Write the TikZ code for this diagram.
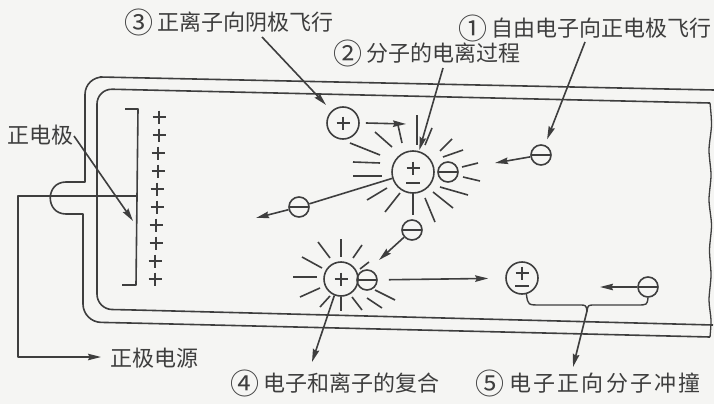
\documentclass[tikz,border=0pt]{standalone}
\usepackage{fontspec}
\newfontfamily\cjk{Noto Sans CJK SC}
\usetikzlibrary{arrows.meta}
\definecolor{ink}{RGB}{62,62,62}
\definecolor{paper}{RGB}{245,245,243}
% enlarged circled step number
\newcommand\cnum[1]{\raisebox{-2.5pt}{\fontsize{29}{29}\selectfont #1}}

\tikzset{
  arr/.style={-{Stealth[length=13pt,width=6.5pt,inset=1.5pt]}},
  lbl/.style={font=\cjk\fontsize{22}{24}\selectfont, inner sep=0pt, text=ink},
  % positive ion: circle with a plus
  posion/.style={circle, draw, minimum size=#1, inner sep=0pt,
    path picture={\draw
      ([shift={(-6.5,0)}]path picture bounding box.center) -- ([shift={(6.5,0)}]path picture bounding box.center)
      ([shift={(0,-6.5)}]path picture bounding box.center) -- ([shift={(0,6.5)}]path picture bounding box.center);}},
  % electron: circle with a bar
  elec/.style={circle, draw, minimum size=20pt, inner sep=0pt,
    path picture={\draw
      ([shift={(-10,0)}]path picture bounding box.center) -- ([shift={(10,0)}]path picture bounding box.center);}},
  % neutral molecule: plus above, minus below
  mol/.style args={#1/#2/#3}{circle, draw, minimum size=#1, inner sep=0pt,
    path picture={\draw
      ([shift={(-6.5,#2)}]path picture bounding box.center) -- ([shift={(6.5,#2)}]path picture bounding box.center)
      ([shift={(0,#2-6.5)}]path picture bounding box.center) -- ([shift={(0,#2+6.5)}]path picture bounding box.center)
      ([shift={(-7,#3)}]path picture bounding box.center) -- ([shift={(7,#3)}]path picture bounding box.center);}},
}

\begin{document}
\begin{tikzpicture}[x=1pt, y=-1pt, line width=1.6pt, color=ink, line join=round]
\fill[paper] (0,0) rectangle (714,404);
\useasboundingbox (0,0) rectangle (714,404);

% ---- discharge tube (outer wall with side arm) ----
\draw (714,90) -- (100,77) [rounded corners=18pt] -- (85,76.5) -- (85,130) [sharp corners]
  -- (85,182) -- (66,182) .. controls (45,182) and (45,214) .. (66,214) -- (83,214)
  -- (83,260) [rounded corners=18pt] -- (83,322) -- (130,323) [sharp corners] -- (710,337);
% inner wall
\draw (710,103) -- (115,89.3) [rounded corners=15pt] -- (97,89) -- (97,309.2) -- (135,310) [sharp corners] -- (713,325);
% broken-off right end
\draw[line width=1.3pt] plot[smooth] coordinates {(710,103) (711.5,125) (709,150) (711,175) (709,200)
  (711.5,225) (709.5,250) (711,275) (709,300) (711,320) (710,337)};

% ---- positive electrode ----
\draw (125,109) -- (138,109) -- (136,285) -- (122,285);
\coordinate (w0) at (137,196);
\coordinate (tE) at (133,221);
\foreach \i in {0,...,9}
  \draw ({round(159-4*\i/9)-6.5},{117+18*\i}) -- ({round(159-4*\i/9)+6.5},{117+18*\i})
        ({round(159-4*\i/9)},{117+18*\i-6.5}) -- ({round(159-4*\i/9)},{117+18*\i+6.5});

% ---- particles ----
\node[posion=32pt] (p1) at (343,123) {};
\node[mol=42pt/-4/11] (m1) at (413,172) {};
\node[elec] (e0) at (448,172) {};
\node[elec] (e1) at (541,155) {};
\node[elec] (eL) at (299,207) {};
\node[elec] (e2) at (412,230) {};
\node[posion=34pt] (m3) at (341,279) {};
\node[elec] (e3) at (367,280) {};
\node[mol=32pt/-5/8] (m2) at (522,278) {};
\node[elec] (e4) at (648,287) {};

% rays of the ionisation burst
\begin{scope}[shift={(413,172)}]
  \foreach \a/\b/\c/\d in {-15/-47/-11/-29, 4/-57/4/-27, 12/-27/19/-44, -38/-40/-21/-25,
      -63/-29/-33/-17, -60/-10/-33/-9, -60/4/-31/4, -46/28/-26/16, -28/40/-13/21,
      0/21/0/43, 12/26/22/50, 20/20/40/36, 27/15/55/23, 49/-5/65/-9, 50/5/67/9,
      30/-15/50/-22, 27/-21/39/-33}
    \draw (\a,\b) -- (\c,\d);
\end{scope}
% rays of the recombination burst
\begin{scope}[shift={(341,279)}]
  \foreach \a/\b/\c/\d in {0/-40/0/-22, -23/-37/-11/-21, -39/-22/-19/-11, -48/-2/-24/-2,
      -41/18/-21/9, -21/28/-11/17, 0/18/0/32, 11/18/21/31, 26/19/41/29, 34/11/54/21,
      21/-34/12/-21, 28/-17/19/-10}
    \draw (\a,\b) -- (\c,\d);
\end{scope}

% ---- particle paths ----
\coordinate (t1) at (406,124);
\coordinate (tE1) at (495,163);
\coordinate (tL) at (256,218);
\coordinate (t2) at (379,260);
\coordinate (t4b) at (600,287);
\draw[arr] ([xshift=6pt]p1.east) -- (t1);
\draw[arr] (e1) -- (tE1);
\draw (m1) -- (eL);
\draw[arr] (eL) -- (tL);
\draw[arr] (e2) -- (t2);
\draw[arr, shorten <=11pt, shorten >=17pt] (e3) -- (m2);
\draw[arr] (e4) -- (t4b);

% brace joining electron and molecule
\coordinate (bt) at (587,311);
\draw[line width=1.4pt] (m2.-75) .. controls (528,305) .. (540,305) -- (579,305)
  .. controls (586,305) .. (bt) .. controls (588,305) .. (595,305) -- (637,305)
  .. controls (647,305) .. (e4.south);

% ---- labels ----
\node[lbl] (l3) at (229,22) {\cnum{③} 正离子向阴极飞行};
\node[lbl] (l2) at (427,53) {\cnum{②} 分子的电离过程};
\node[lbl] (l1) at (585,28) {\cnum{①} 自由电子向正电极飞行};
\node[lbl] (lE) at (40,135) {正电极};
\node[lbl, anchor=west] (lP) at (110,358) {正极电源};
\node[lbl] (l4) at (335,383) {\cnum{④} 电子和离子的复合};
\node[lbl] (l5) at (588,383) {\cnum{⑤} \addfontfeature{LetterSpace=10}电子正向分子冲撞};

\coordinate (s3) at (262,37);
\coordinate (s2) at (443,68);
\coordinate (s1) at (585,42);
\coordinate (s0) at (74,136);
\coordinate (tP) at (101,357);
\coordinate (t4) at (312,362);
\coordinate (t5) at (573,367);
\draw[arr, shorten >=8pt] (s3) -- (p1);
\draw[arr, shorten >=1pt] (s2) -- (m1);
\draw[arr, shorten >=6pt] (s1) -- (e1);
\draw[arr] (s0) -- (tE);
\draw[arr, line width=1.3pt] (w0) -- ++(-119,0) |- (tP);
\draw[arr] (m3.-112) -- (t4);
\draw[arr] (bt) -- (t5);
\end{tikzpicture}
\end{document}
